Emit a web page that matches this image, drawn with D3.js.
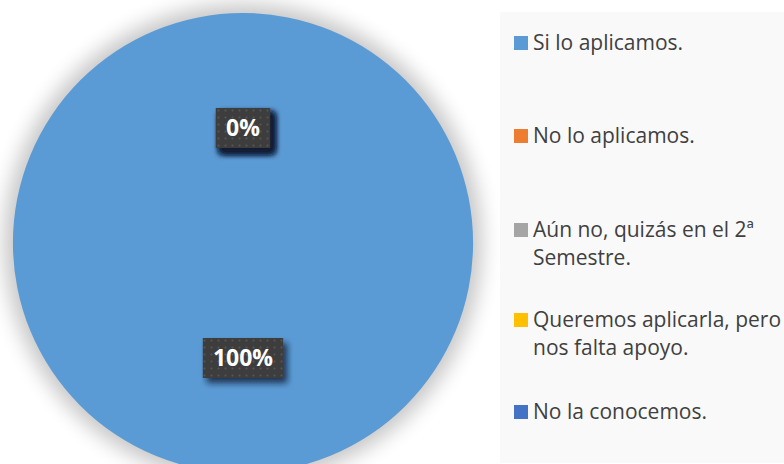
<!DOCTYPE html>
<html>
<head>
<meta charset="utf-8">
<script src="https://cdn.jsdelivr.net/npm/d3@7"></script>
<style>
  html, body { margin: 0; padding: 0; background: #ffffff; }
  svg { display: block; }
</style>
</head>
<body>
<svg id="chart" width="784" height="464"></svg>
<script>
// Survey answers and their shares (percent)
const categories = [
  "Si lo aplicamos.",
  "No lo aplicamos.",
  "Aún no, quizás en el 2ª Semestre.",
  "Queremos aplicarla, pero nos falta apoyo.",
  "No la conocemos."
];
const values = [100, 0, 0, 0, 0];
const colors = ["#5B9BD5", "#ED7D31", "#A5A5A5", "#FFC000", "#4472C4"];
// Legend text split into the lines it is drawn on
const legendLines = [
  ["Si lo aplicamos."],
  ["No lo aplicamos."],
  ["Aún no, quizás en el 2ª", "Semestre."],
  ["Queremos aplicarla, pero", "nos falta apoyo."],
  ["No la conocemos."]
];

const svg = d3.select("#chart");
const W = 784, H = 464;
const cx = 243, cy = 243, R = 230;

const defs = svg.append("defs");

// soft glow around the pie
const glow = defs.append("filter").attr("id", "pieGlow")
  .attr("x", "-20%").attr("y", "-20%").attr("width", "140%").attr("height", "140%");
glow.append("feGaussianBlur").attr("in", "SourceGraphic").attr("stdDeviation", 10);

// drop shadow for the value labels
const lblShadow = defs.append("filter").attr("id", "lblShadow")
  .attr("x", "-30%").attr("y", "-30%").attr("width", "170%").attr("height", "170%");
lblShadow.append("feDropShadow")
  .attr("dx", 4).attr("dy", 5).attr("stdDeviation", 3)
  .attr("flood-color", "#0a1a33").attr("flood-opacity", 0.8);

// dotted texture for the label boxes
const pat = defs.append("pattern").attr("id", "dots")
  .attr("patternUnits", "userSpaceOnUse").attr("width", 7).attr("height", 7);
pat.append("rect").attr("width", 7).attr("height", 7).attr("fill", "#3e3e3e");
pat.append("circle").attr("cx", 3.5).attr("cy", 3.5).attr("r", 1).attr("fill", "#555555");

// legend panel
svg.append("rect")
  .attr("x", 500).attr("y", 12).attr("width", W - 500).attr("height", 451)
  .attr("fill", "#f9f9f9");

// pie glow
svg.append("circle")
  .attr("cx", cx).attr("cy", cy).attr("r", R + 9)
  .attr("fill", "#000").attr("opacity", 0.22)
  .attr("filter", "url(#pieGlow)");

const pie = d3.pie().sort(null).value(d => d);
const arcs = pie(values);
const arc = d3.arc().innerRadius(0).outerRadius(R);
const labelArc = d3.arc().innerRadius(R / 2).outerRadius(R / 2);

const g = svg.append("g").attr("transform", `translate(${cx},${cy})`);

g.selectAll("path.slice")
  .data(arcs)
  .enter().append("path")
  .attr("class", "slice")
  .attr("d", arc)
  .attr("fill", (d, i) => colors[i]);

// value labels
const pct = d3.format(".0%");
const total = d3.sum(values);
const lab = g.selectAll("g.lbl")
  .data(arcs)
  .enter().append("g")
  .attr("class", "lbl")
  .attr("transform", d => {
    const [x, y] = labelArc.centroid(d);
    return `translate(${x},${y})`;
  });

lab.each(function(d) {
  const sel = d3.select(this);
  const txt = pct(d.data / total);
  const t = sel.append("text")
    .attr("text-anchor", "middle")
    .attr("dy", "0.36em")
    .attr("font-family", "'Open Sans', sans-serif")
    .attr("font-weight", "bold")
    .attr("font-size", 23)
    .attr("fill", "#ffffff")
    .text(txt);
  const bb = t.node().getBBox();
  const padX = 10, h = 40;
  sel.insert("rect", "text")
    .attr("x", -bb.width / 2 - padX)
    .attr("y", -h / 2)
    .attr("width", bb.width + 2 * padX)
    .attr("height", h)
    .attr("fill", "url(#dots)")
    .attr("filter", "url(#lblShadow)");
});

// legend
const legendY = [43, 136, 230, 320, 412];
const lineH = 27.5;
const leg = svg.append("g");
categories.forEach((c, i) => {
  const y = legendY[i];
  leg.append("rect")
    .attr("x", 514).attr("y", y - 7).attr("width", 14).attr("height", 14)
    .attr("fill", colors[i]);
  const t = leg.append("text")
    .attr("x", 533).attr("y", y)
    .attr("font-family", "'Open Sans', sans-serif")
    .attr("font-size", 21)
    .attr("fill", "#404040");
  legendLines[i].forEach((ln, k) => {
    t.append("tspan").attr("x", 533).attr("dy", k === 0 ? "0.35em" : lineH).text(ln);
  });
});
</script>
</body>
</html>
